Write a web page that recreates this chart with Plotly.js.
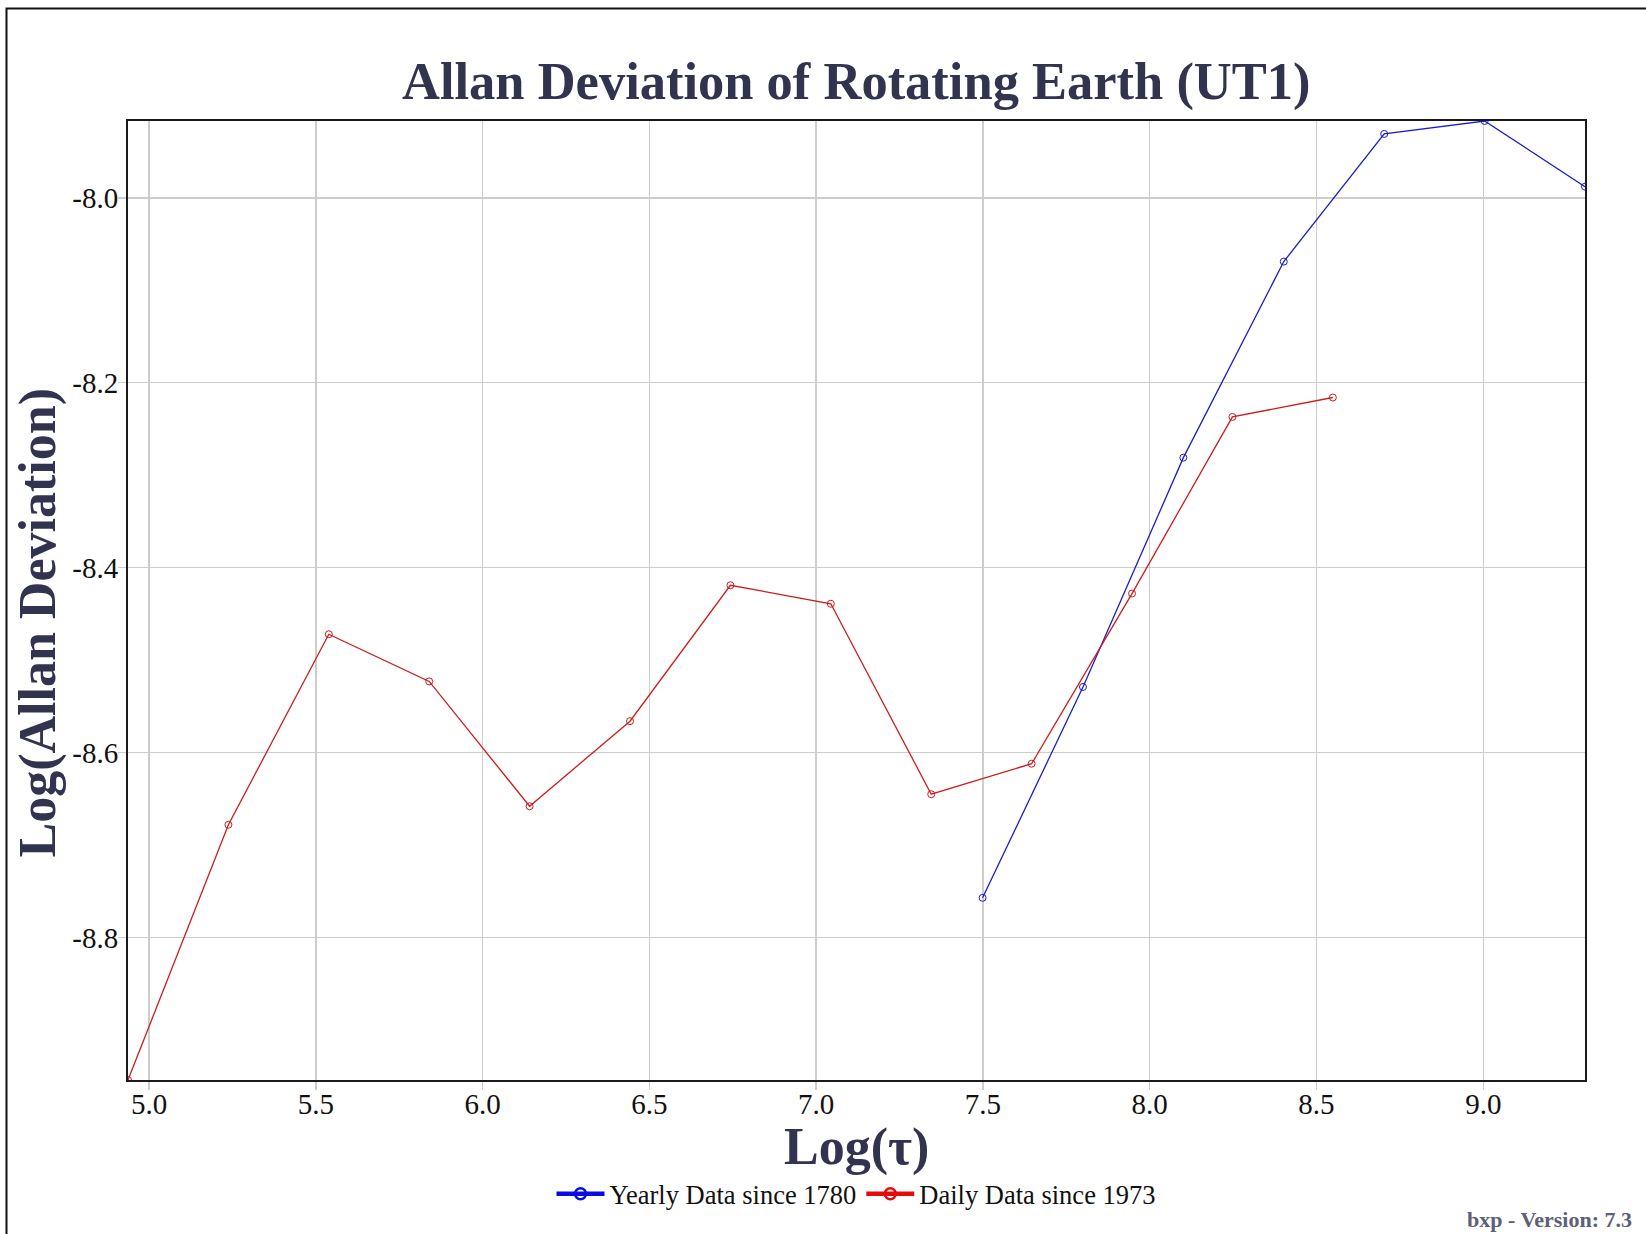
<!DOCTYPE html>
<html>
<head>
<meta charset="utf-8">
<script src="https://cdn.plot.ly/plotly-3.0.1.min.js"></script>
<style>
  html, body { margin: 0; padding: 0; background: #ffffff; }
  #chart { width: 1646px; height: 1234px; }
</style>
</head>
<body>
<div id="chart"></div>
<script>
// ---- Data ----
const yearlyLogTau = [7.499, 7.800, 8.101, 8.402, 8.703, 9.004, 9.305];
const yearlyLogAdev = [-8.757, -8.529, -8.281, -8.069, -7.931, -7.917, -7.988];

const dailyLogTau = [4.937, 5.238, 5.539, 5.840, 6.141, 6.442, 6.743, 7.044, 7.345, 7.646, 7.947, 8.248, 8.549];
const dailyLogAdev = [-8.954, -8.678, -8.472, -8.523, -8.658, -8.566, -8.419, -8.439, -8.645, -8.612, -8.428, -8.237, -8.216];

const seriesNames = ['Yearly Data since 1780', 'Daily Data since 1973'];

const xTickVals = [5.0, 5.5, 6.0, 6.5, 7.0, 7.5, 8.0, 8.5, 9.0];
const xTickText = ['5.0', '5.5', '6.0', '6.5', '7.0', '7.5', '8.0', '8.5', '9.0'];
const yTickVals = [-8.8, -8.6, -8.4, -8.2, -8.0];
const yTickText = ['-8.8', '-8.6', '-8.4', '-8.2', '-8.0'];

const chartTitle = 'Allan Deviation of Rotating Earth (UT1)';
const xTitle = 'Log(\u03C4)';
const yTitle = 'Log(Allan Deviation)';
const footer = 'bxp - Version: 7.3';

// ---- Layout geometry (pixels) ----
const W = 1646, H = 1234;
const M = { l: 128, r: 61, t: 121, b: 154 };
const PW = W - M.l - M.r, PH = H - M.t - M.b;
const px = x => (x - M.l) / PW;          // pixel -> paper x
const py = y => (H - M.b - y) / PH;      // pixel -> paper y

const serif = 'Liberation Serif, Times New Roman, serif';
const navy = '#32334f';

const traces = [
  {
    x: yearlyLogTau, y: yearlyLogAdev, name: seriesNames[0],
    mode: 'lines+markers', showlegend: false,
    line: { color: '#1c1cc8', width: 1.3 },
    marker: { symbol: 'circle-open', size: 7, color: '#1c1cc8', line: { width: 1 } }
  },
  {
    x: dailyLogTau, y: dailyLogAdev, name: seriesNames[1],
    mode: 'lines+markers', showlegend: false,
    line: { color: '#cc1c1c', width: 1.3 },
    marker: { symbol: 'circle-open', size: 7, color: '#cc1c1c', line: { width: 1 } }
  },
  // legend entries (thicker symbols as in the reference legend)
  {
    x: [null], y: [null], name: seriesNames[0], mode: 'lines+markers',
    line: { color: '#0a0ae6', width: 4.5 },
    marker: { symbol: 'circle-open', size: 11, color: '#0a0ae6', line: { width: 2.5 } }
  },
  {
    x: [null], y: [null], name: seriesNames[1], mode: 'lines+markers',
    line: { color: '#e60a0a', width: 4.5 },
    marker: { symbol: 'circle-open', size: 11, color: '#e60a0a', line: { width: 2.5 } }
  }
];

const axisCommon = {
  showgrid: true, gridcolor: '#cdcdcd', gridwidth: 1.5,
  zeroline: false,
  showline: true, linecolor: '#1a1a1a', linewidth: 2, mirror: true,
  ticks: 'outside', ticklen: 8, tickwidth: 1.5, tickcolor: '#cdcdcd',
  tickmode: 'array',
  tickfont: { family: serif, size: 29, color: '#111111' }
};

const layout = {
  width: W, height: H,
  margin: M,
  paper_bgcolor: '#ffffff', plot_bgcolor: '#ffffff',
  showlegend: true,
  xaxis: Object.assign({}, axisCommon, {
    range: [4.937, 9.305], tickvals: xTickVals, ticktext: xTickText,
    ticklabelstandoff: -11
  }),
  yaxis: Object.assign({}, axisCommon, {
    range: [-8.954, -7.917], tickvals: yTickVals, ticktext: yTickText,
    ticklabelstandoff: -6
  }),
  legend: {
    orientation: 'h', x: 0.5, xanchor: 'center', y: py(1194), yanchor: 'middle',
    font: { family: serif, size: 26.5, color: '#111111' },
    bgcolor: 'rgba(0,0,0,0)', itemwidth: 48, tracegroupgap: 0
  },
  annotations: [
    { text: '<b>' + chartTitle + '</b>', xref: 'paper', yref: 'paper',
      x: 0.5, y: py(82), xanchor: 'center', yanchor: 'middle', showarrow: false,
      font: { family: serif, size: 52.5, color: navy } },
    { text: '<b>' + xTitle + '</b>', xref: 'paper', yref: 'paper',
      x: 0.5, y: py(1147), xanchor: 'center', yanchor: 'middle', showarrow: false,
      font: { family: serif, size: 52, color: navy } },
    { text: '<b>' + yTitle + '</b>', xref: 'paper', yref: 'paper',
      x: px(37.5), y: py(623), xanchor: 'center', yanchor: 'middle', showarrow: false,
      textangle: -90,
      font: { family: serif, size: 52, color: navy } },
    { text: '<b>' + footer + '</b>', xref: 'paper', yref: 'paper',
      x: px(1634), y: py(1219.5), xanchor: 'right', yanchor: 'middle', showarrow: false,
      font: { family: serif, size: 22, color: '#5c6078' } }
  ],
  shapes: [
    { type: 'rect', xref: 'paper', yref: 'paper',
      x0: px(6.5), x1: px(1660), y0: py(1250), y1: py(8.5),
      line: { color: '#111111', width: 2 }, fillcolor: 'rgba(0,0,0,0)', layer: 'below' }
  ]
};

Plotly.newPlot('chart', traces, layout, { displayModeBar: false, staticPlot: true });
</script>
</body>
</html>
